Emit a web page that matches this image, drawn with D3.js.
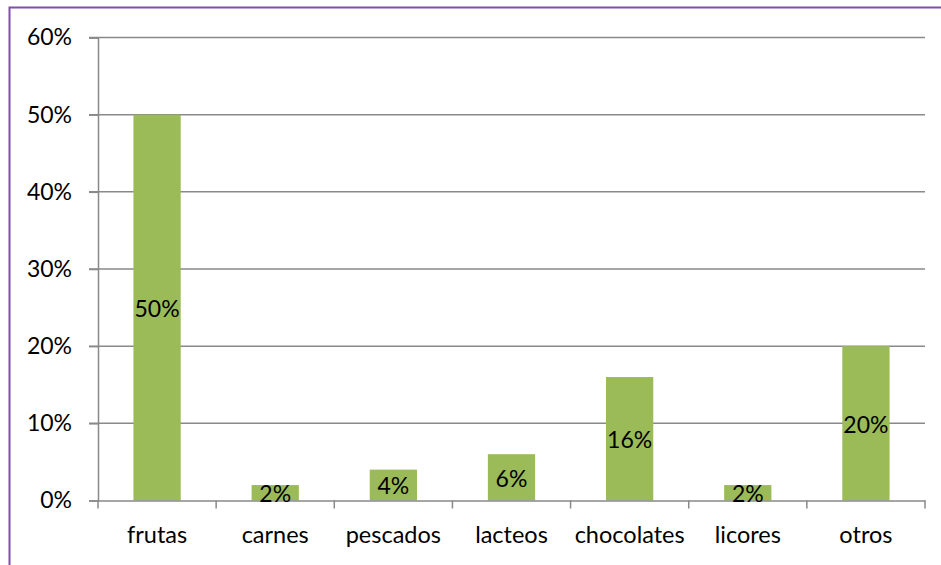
<!DOCTYPE html>
<html><head><meta charset="utf-8">
<script src="https://cdn.jsdelivr.net/npm/d3@7/dist/d3.min.js"></script>
<style>body{margin:0;background:#fff}svg{display:block}text{font-family:Lato,"Open Sans",sans-serif}</style>
</head><body>
<svg id="c" width="941" height="565"></svg>
<script>
const categories = ["frutas","carnes","pescados","lacteos","chocolates","licores","otros"];
const values = [50, 2, 4, 6, 16, 2, 20];
const yTicks = [0,10,20,30,40,50,60];

(function(){
const svg = d3.select("#c");
svg.append("rect").attr("x",9.5).attr("y",7.5).attr("width",940).attr("height",570)
  .attr("fill","#fff").attr("stroke","#7f4fb0").attr("stroke-width",2);

const pLeft=98, pRight=925, pTop=37.5, pBottom=500.5;
const x = d3.scaleBand().domain(categories).range([pLeft,pRight]).paddingInner(0.6).paddingOuter(0.3);
const xb = d3.scaleBand().domain(categories).range([pLeft,pRight]);
const y = d3.scaleLinear().domain([0,60]).range([pBottom,pTop]);
const grey="#898989";

svg.append("g").selectAll("line").data(yTicks.filter(d=>d>0)).join("line")
  .attr("x1",pLeft-9).attr("x2",pRight).attr("y1",d=>y(d)).attr("y2",d=>y(d))
  .attr("stroke",grey).attr("stroke-width",1.5);

svg.append("g").selectAll("rect").data(values).join("rect")
  .attr("x",(d,i)=>x(categories[i])).attr("width",x.bandwidth())
  .attr("y",d=>y(d)).attr("height",d=>y(0)-y(d)).attr("fill","#9bbb59");

const ya = svg.append("g").attr("transform",`translate(${pLeft},0)`)
  .call(d3.axisLeft(y).tickValues(yTicks).tickFormat(d=>d+"%").tickSize(9).tickPadding(17));
ya.select(".domain").attr("stroke",grey).attr("stroke-width",1.5);
ya.selectAll(".tick line").attr("stroke",grey).attr("stroke-width",1.5);
ya.selectAll("text").attr("font-size",23).attr("fill","#000").attr("font-family","Lato");

const xa = svg.append("g").attr("transform",`translate(0,${pBottom})`)
  .call(d3.axisBottom(xb).tickSize(0).tickPadding(26));
xa.select(".domain").attr("stroke",grey).attr("stroke-width",1.5);
xa.selectAll("text").attr("font-size",23.5).attr("fill","#000").attr("font-family","Lato");
const edges = categories.map(c=>xb(c)).concat([pRight]);
xa.append("g").selectAll("line").data(edges).join("line")
  .attr("x1",d=>d).attr("x2",d=>d).attr("y1",0).attr("y2",8)
  .attr("stroke",grey).attr("stroke-width",1.5);

svg.append("g").selectAll("text").data(values).join("text")
  .attr("x",(d,i)=>x(categories[i])+x.bandwidth()/2)
  .attr("y",d=>(y(d)+y(0))/2).attr("dy","0.4em").attr("text-anchor","middle")
  .attr("font-size",23).attr("fill","#000").text(d=>d+"%");
})();
</script>
</body></html>
